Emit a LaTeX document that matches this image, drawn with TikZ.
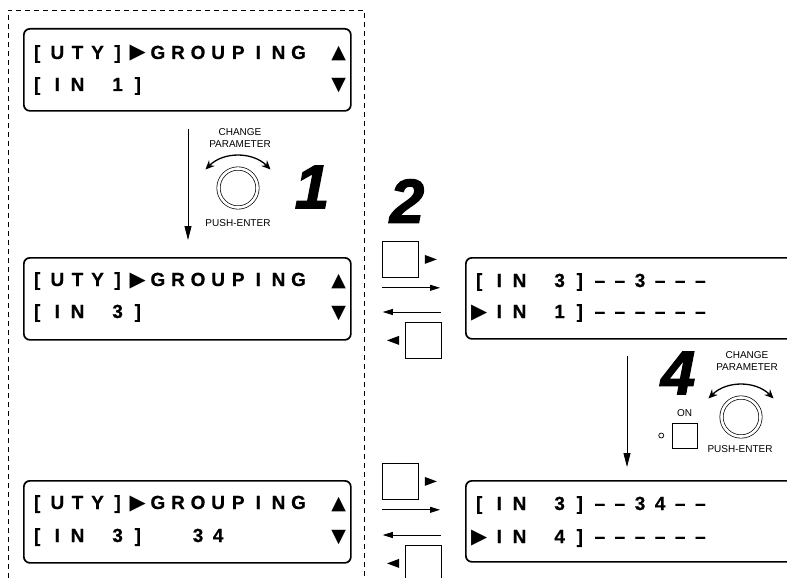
\documentclass[tikz,border=0pt]{standalone}
\usepackage{fontspec}
\setmainfont{Liberation Sans}
\newfontfamily\symfont{DejaVu Sans}
\newfontfamily\lcdfont[FakeBold=0.6]{Liberation Sans Bold}
\newfontfamily\stepfont[FakeBold=2]{Liberation Sans Bold Italic}
\usetikzlibrary{arrows.meta,positioning,calc}

\newlength\lcdcell
\setlength\lcdcell{20.1pt}
\newcommand\lcdrow[1]{\foreach \ch in {#1}{\makebox[\lcdcell][c]{\ch}}}
\newcommand\tri{{\symfont\fontsize{21}{21}\selectfont ▶}}
\newcommand\triup{{\symfont\fontsize{19}{19}\selectfont ▲}}
\newcommand\tridn{{\symfont\fontsize{19}{19}\selectfont ▼}}

\begin{document}
\begin{tikzpicture}[x=1pt, y=-1pt,
  lcd/.style={draw, line width=1.7pt, rounded corners=6pt, minimum width=327pt, minimum height=82pt, inner sep=0pt, anchor=north west},
  row/.style={anchor=base west, inner sep=0pt, font=\fontsize{19}{19}\lcdfont},
  lbl/.style={inner sep=0pt, align=center, font=\fontsize{10}{12}\selectfont},
  num/.style={inner sep=0pt, font=\fontsize{62}{62}\stepfont},
  knob/.style={circle, draw, double, double distance=2.6pt, line width=0.7pt, minimum size=39pt, inner sep=0pt},
  turn/.style={{Stealth[length=9pt,width=8pt]}-{Stealth[length=9pt,width=8pt]}, line width=1.3pt},
  key/.style={draw, line width=0.8pt, minimum size=36pt, inner sep=0pt},
  led/.style={circle, draw, line width=0.7pt, minimum size=5pt, inner sep=0pt},
  arr/.style={-{Triangle[length=14pt,width=7pt]}, line width=0.8pt},
  harr/.style={-{Triangle[length=10pt,width=6pt]}, line width=0.8pt},
  frame/.style={line width=0.8pt, dash pattern=on 5pt off 4pt}
]
  \useasboundingbox (0,0) rectangle (787,578);
  \clip (0,0) rectangle (787,578);

  % left column: utility menu
  \draw[frame] (8,578) -- (8,10) -- (364,10) -- (364,578);

  \node[lcd] (utyA) at (23,28) {};
  \node[lcd] (utyB) at (23,257) {};
  \node[lcd] (utyC) at (23,480) {};

  \node[row] (utyA1) at ($(utyA.north west)+(4,31)$) {\lcdrow{[,U,T,Y,],\tri,G,R,O,U,P,I,N,G,{},\triup}};
  \node[row] (utyA2) at ($(utyA.north west)+(4,63)$) {\lcdrow{[,I,N,{},1,],{},{},{},{},{},{},{},{},{},\tridn}};
  \node[row] (utyB1) at ($(utyB.north west)+(4,29)$) {\lcdrow{[,U,T,Y,],\tri,G,R,O,U,P,I,N,G,{},\triup}};
  \node[row] (utyB2) at ($(utyB.north west)+(4,61)$) {\lcdrow{[,I,N,{},3,],{},{},{},{},{},{},{},{},{},\tridn}};
  \node[row] (utyC1) at ($(utyC.north west)+(4,29)$) {\lcdrow{[,U,T,Y,],\tri,G,R,O,U,P,I,N,G,{},\triup}};
  \node[row] (utyC2) at ($(utyC.north west)+(4,62)$) {\lcdrow{[,I,N,{},3,],{},{},3,4,{},{},{},{},{},\tridn}};

  % step 1
  \coordinate (dropA) at (188,0);
  \draw[arr, shorten <=17pt, shorten >=17pt] (utyA.south -| dropA) -- (utyB.north -| dropA);
  \node[knob] (knobA) at (238,188) {};
  \draw[turn] ($(knobA)+(0,14)+(225:46)$) arc[start angle=225, end angle=315, radius=46];
  \node[lbl] (chgA) at (240,138) {CHANGE\\PARAMETER};
  \node[lbl] (pushA) at (238,223) {PUSH-ENTER};
  \node[num] (stepA) at (312,187) {1};

  % step 2: cursor keys
  \node[num] (stepB) at (407,201) {2};
  \node[key, anchor=north west] (keyRa) at (382,241) {};
  \node[key, anchor=north west] (keyLa) at (405,322) {};
  \fill ($(keyRa.east)+(6,-4.5)$) -- ++(12,4.5) -- ++(-12,4.5) -- cycle;
  \fill ($(keyLa.west)+(-6,-4.5)$) -- ++(-12,4.5) -- ++(12,4.5) -- cycle;
  \draw[harr] ($(keyRa.south west)+(0,10)$) -- ++(58,0);
  \draw[harr] ($(keyLa.north east)+(-1,-10)$) -- ++(-58,0);

  \node[key, anchor=north west] (keyRb) at (382,463) {};
  \node[key, anchor=north west] (keyLb) at (405,545) {};
  \fill ($(keyRb.east)+(6,-4.5)$) -- ++(12,4.5) -- ++(-12,4.5) -- cycle;
  \fill ($(keyLb.west)+(-6,-4.5)$) -- ++(-12,4.5) -- ++(12,4.5) -- cycle;
  \draw[harr] ($(keyRb.south west)+(0,10)$) -- ++(58,0);
  \draw[harr] ($(keyLb.north east)+(-1,-10)$) -- ++(-58,0);

  % right column: grouping table
  \node[lcd, minimum width=360pt, minimum height=81pt] (grpA) at (465,257) {};
  \node[lcd, minimum width=360pt, minimum height=81pt] (grpB) at (465,480) {};

  \node[row] (grpA1) at ($(grpA.north west)+(4,30)$) {\lcdrow{[,I,N,{},3,],–,–,3,–,–,–}};
  \node[row] (grpA2) at ($(grpA.north west)+(4,61)$) {\lcdrow{\tri,I,N,{},1,],–,–,–,–,–,–}};
  \node[row] (grpB1) at ($(grpB.north west)+(4,30)$) {\lcdrow{[,I,N,{},3,],–,–,3,4,–,–}};
  \node[row] (grpB2) at ($(grpB.north west)+(4,63)$) {\lcdrow{\tri,I,N,{},4,],–,–,–,–,–,–}};

  % step 4
  \coordinate (dropD) at (627,0);
  \draw[arr, shorten <=16pt, shorten >=13pt] (grpA.south -| dropD) -- (grpB.north -| dropD);
  \node[num] (stepD) at (678,373) {4};
  \node[knob] (knobD) at (741,417) {};
  \draw[turn] ($(knobD)+(0,14)+(225:46)$) arc[start angle=225, end angle=315, radius=46];
  \node[lbl] (chgD) at (747,361) {CHANGE\\PARAMETER};
  \node[lbl] (pushD) at (740,449) {PUSH-ENTER};
  \node[key, minimum size=25pt] (keyOn) at (684.5,435.5) {};
  \node[lbl, above=6pt of keyOn] (onLbl) {ON};
  \node[led, left=7.5pt of keyOn] (ledOn) {};
\end{tikzpicture}
\end{document}
